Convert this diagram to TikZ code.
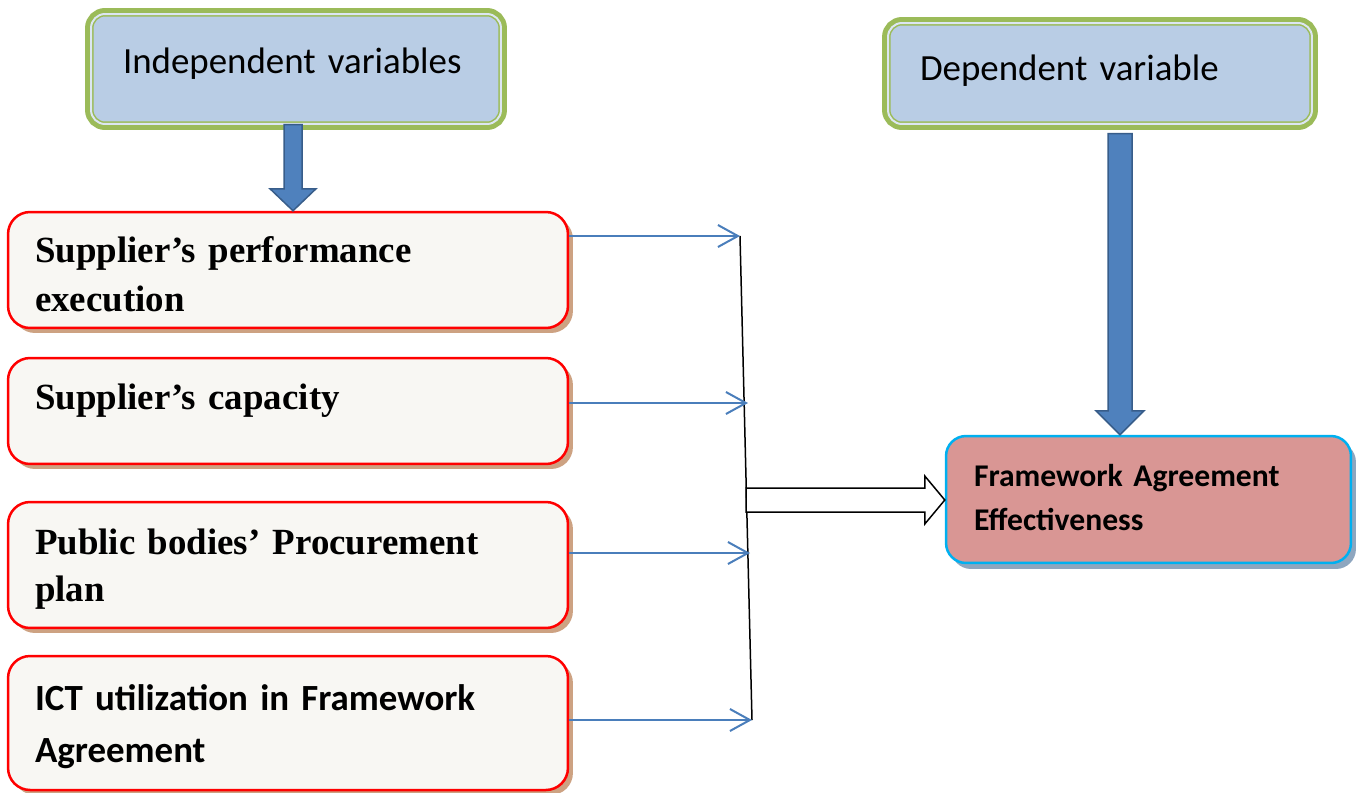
\documentclass[tikz,border=0pt]{standalone}
\usepackage{fontspec}
\setmainfont{Liberation Serif}
\newfontfamily\calibri{Carlito}
\usetikzlibrary{arrows.meta, calc, shadows}

\definecolor{varGreen}{HTML}{9BBB59}
\definecolor{varFill}{HTML}{B9CDE5}
\definecolor{varGap}{HTML}{DCE6F2}
\definecolor{boxFill}{HTML}{F8F7F3}
\definecolor{boxShadow}{HTML}{CDA282}
\definecolor{arrFill}{HTML}{4F81BD}
\definecolor{arrEdge}{HTML}{385D8A}
\definecolor{linkBlue}{HTML}{4A7EBB}
\definecolor{outFill}{HTML}{D99694}
\definecolor{outEdge}{HTML}{00B0F0}
\definecolor{outShadow}{HTML}{8EA6BF}

\tikzset{
  varbox/.style={preaction={draw=varGreen, line width=2.4mm},
    fill=varFill, draw=varGreen, line width=0.3mm, double=varGap,
    double distance=0.4mm, rounded corners=0.28cm, inner xsep=0.64cm,
    align=left, font=\calibri\fontsize{21}{25}\selectfont},
  factorbox/.style={fill=boxFill, draw=red, line width=0.05cm,
    rounded corners=0.44cm, minimum width=11.2cm, text width=10.12cm,
    inner xsep=0.54cm, align=left,
    drop shadow={shadow xshift=0.1cm, shadow yshift=-0.1cm, fill=boxShadow, opacity=1}},
  outbox/.style={fill=outFill, draw=outEdge, line width=0.05cm,
    rounded corners=0.4cm, minimum width=8.1cm, minimum height=2.54cm,
    text width=6.98cm, inner xsep=0.56cm, align=left,
    font=\calibri\bfseries\fontsize{18}{25}\selectfont,
    drop shadow={shadow xshift=0.1cm, shadow yshift=-0.12cm, fill=outShadow, opacity=1}},
  blockarrow/.style={fill=arrFill, draw=arrEdge, line width=0.03cm},
  hollowarrow/.style={fill=white, draw=black, line width=0.03cm},
  linkarrow/.style={draw=linkBlue, line width=0.04cm,
    -{Straight Barb[length=0.4cm, width=0.44cm]}}
}

% block arrow pointing down: style, from, to, half shaft, half head, head length
\newcommand{\downblock}[6]{%
  \draw[#1] let \p1=(#2), \p2=(#3) in
    (\x1-#4,\y1) -- (\x1-#4,\y2+#6) -- (\x1-#5,\y2+#6) -- (\x1,\y2)
    -- (\x1+#5,\y2+#6) -- (\x1+#4,\y2+#6) -- (\x1+#4,\y1) -- cycle;}
% block arrow pointing right
\newcommand{\rightblock}[6]{%
  \draw[#1] let \p1=(#2), \p2=(#3) in
    (\x1,\y1+#4) -- (\x2-#6,\y1+#4) -- (\x2-#6,\y1+#5) -- (\x2,\y1)
    -- (\x2-#6,\y1-#5) -- (\x2-#6,\y1-#4) -- (\x1,\y1-#4) -- cycle;}

\begin{document}
\begin{tikzpicture}[x=0.02cm, y=-0.02cm]
\useasboundingbox (0,0) rectangle (1356,792);

% Variable headings
\node[varbox, minimum width=8.2cm, minimum height=2.2cm, text width=6.92cm,
  text depth=0.32cm] (indep) at (296,69) {Independent variables};
\node[varbox, minimum width=8.48cm, minimum height=2.02cm, text width=7.2cm,
  text depth=0.25cm] (dep) at (1100,73.5) {Dependent variable};

% Independent variables
\node[factorbox, minimum height=2.32cm, text height=0.7cm,
  font=\bfseries\fontsize{21}{28}\selectfont]
  (sup1) at (288,270) {Supplier’s performance\\execution};
\node[factorbox, minimum height=2.12cm, text depth=0.56cm,
  font=\bfseries\fontsize{21}{27}\selectfont]
  (sup2) at (288,411) {Supplier’s capacity};
\node[factorbox, minimum height=2.52cm, text height=0.67cm,
  font=\bfseries\fontsize{21}{27}\selectfont]
  (plan) at (288,565) {Public bodies’ Procurement\\plan};
\node[factorbox, minimum height=2.68cm, text height=0.67cm,
  font=\calibri\bfseries\fontsize{21}{30}\selectfont]
  (ict) at (288,723) {ICT utilization in Framework\\Agreement};

% Dependent variable
\node[outbox, text height=0.35cm] (fw) at (1148.5,499.5) {Framework Agreement\\Effectiveness};

% Heading arrows
\coordinate (ia) at ([xshift=-0.06cm]indep.south);
\downblock{blockarrow}{ia}{ia |- sup1.north}{0.18cm}{0.46cm}{0.44cm}
\coordinate (da) at ([xshift=0.4cm, yshift=-0.18cm]dep.south);
\downblock{blockarrow}{da}{da |- fw.north}{0.24cm}{0.48cm}{0.48cm}

% Joining line
\coordinate (j1) at (740,236);
\coordinate (j2) at (748,403);
\coordinate (j3) at (750,553);
\coordinate (j4) at (752,720);
\coordinate (jm) at (746,500);
\draw[line width=0.03cm] (j1) -- (j4);

% Links
\draw[linkarrow] (j1 -| sup1.east) -- (j1);
\draw[linkarrow] (j2 -| sup2.east) -- (j2);
\draw[linkarrow] (j3 -| plan.east) -- (j3);
\draw[linkarrow] (j4 -| ict.east) -- (j4);

% Result arrow
\rightblock{hollowarrow}{jm}{fw.west}{0.24cm}{0.48cm}{0.4cm}

\end{tikzpicture}
\end{document}
